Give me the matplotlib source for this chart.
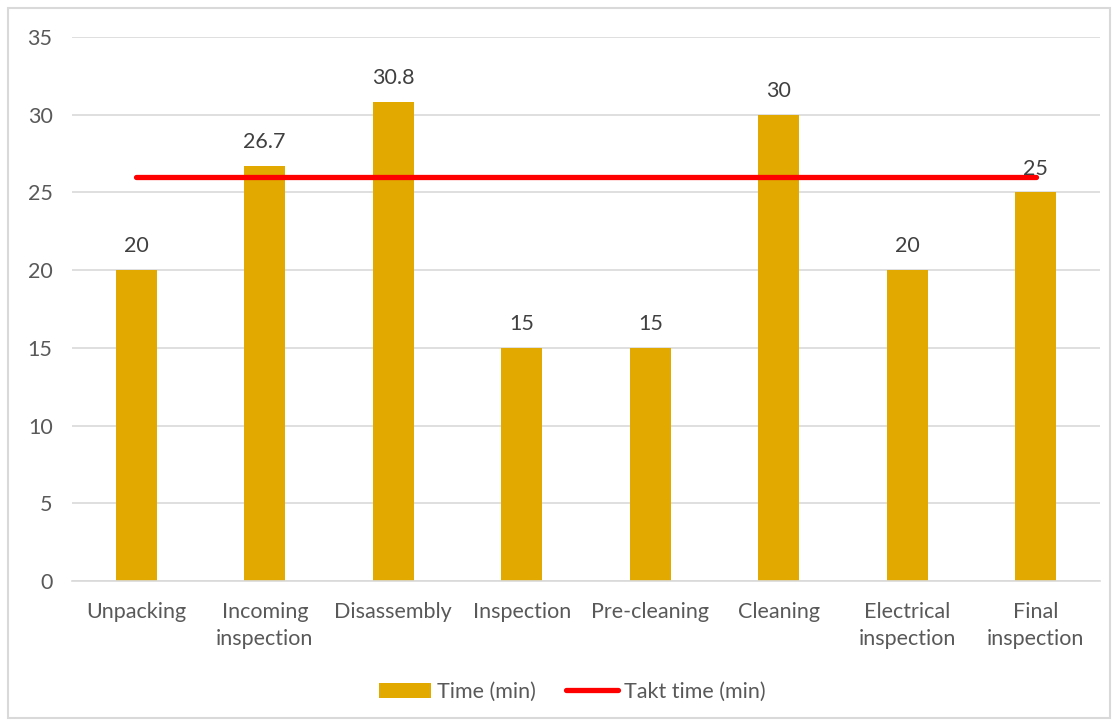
import matplotlib
matplotlib.use("Agg")
import matplotlib.pyplot as plt
from matplotlib.patches import Rectangle
from matplotlib.lines import Line2D
from matplotlib.patches import Patch

categories = ["Unpacking", "Incoming\ninspection", "Disassembly", "Inspection",
              "Pre-cleaning", "Cleaning", "Electrical\ninspection", "Final\ninspection"]
time_min = [20, 26.7, 30.8, 15, 15, 30, 20, 25]
time_labels = ["20", "26.7", "30.8", "15", "15", "30", "20", "25"]
takt_time = [26] * len(categories)
y_ticks = [0, 5, 10, 15, 20, 25, 30, 35]

plt.rcParams["font.family"] = ["Lato", "DejaVu Sans"]

W, H = 1118, 726
FS = 15.5
fig = plt.figure(figsize=(W / 100, H / 100), dpi=100)
fig.patches.append(Rectangle((8 / W, 8 / H), 1 - 16 / W, 1 - 16 / H,
                             transform=fig.transFigure, fill=False,
                             edgecolor="#d9d9d9", linewidth=1.5))

ax = fig.add_axes([72 / W, (H - 581) / H, (1100 - 72) / W, (581 - 37) / H])
x = list(range(len(categories)))
bar_color = "#E2AA00"
ax.bar(x, time_min, width=0.32, color=bar_color, zorder=2)
ax.plot(x, takt_time, color="#FF0000", linewidth=3.8, solid_capstyle="round", zorder=3)

for xi, v, lab in zip(x, time_min, time_labels):
    ax.annotate(lab, (xi, v), xytext=(0, 10), textcoords="offset points",
                ha="center", va="bottom", fontsize=FS, color="#404040", zorder=4)

ax.set_xlim(-0.5, len(categories) - 0.5)
ax.set_ylim(0, 35)
ax.set_yticks(y_ticks)
ax.yaxis.grid(True, color="#d9d9d9", linewidth=1.2, zorder=0)
ax.set_axisbelow(True)
for s in ["top", "right", "left"]:
    ax.spines[s].set_visible(False)
ax.spines["bottom"].set_color("#d9d9d9")
ax.spines["bottom"].set_linewidth(1.2)
ax.tick_params(axis="both", length=0, labelsize=FS, labelcolor="#595959")
ax.tick_params(axis="y", pad=14)
ax.tick_params(axis="x", pad=15)
ax.set_xticks(x)
ax.set_xticklabels(categories, linespacing=1.45)

handles = [Patch(facecolor=bar_color, label="Time (min)"),
           Line2D([0], [0], color="#FF0000", linewidth=3.8, solid_capstyle="round",
                  label="Takt time (min)")]
leg = fig.legend(handles=handles, loc="center", bbox_to_anchor=(0.512, (H - 692) / H),
                 ncol=2, frameon=False, fontsize=FS, handlelength=2.4, handleheight=0.7,
                 handletextpad=0.3, columnspacing=1.4, labelcolor="#595959")

fig.savefig("out.png", dpi=100)
